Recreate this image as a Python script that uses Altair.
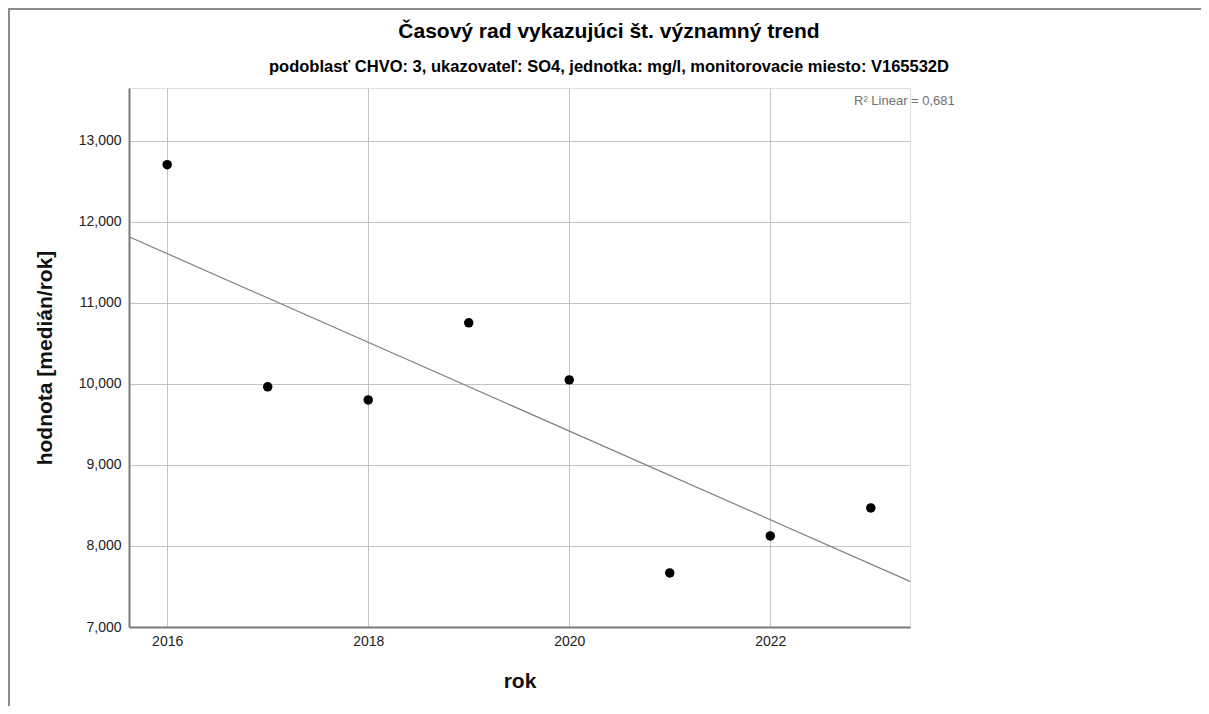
import altair as alt
import pandas as pd

years = [2016, 2017, 2018, 2019, 2020, 2021, 2022, 2023]
values = [12.704, 9.963, 9.802, 10.753, 10.049, 7.667, 8.123, 8.469]

title_text = "Časový rad vykazujúci št. významný trend"
subtitle_text = "podoblasť CHVO: 3, ukazovateľ: SO4, jednotka: mg/l, monitorovacie miesto: V165532D"
r2_text = "R² Linear = 0,681"

x_domain = [2015.62, 2023.39]
y_domain = [7.0, 13.65]
x_ticks = [2016, 2018, 2020, 2022]
y_ticks = [7, 8, 9, 10, 11, 12, 13]

W, H = 781, 539
PL, PT, PR, PB = 121, 80, 1193 - 121 - 781, 698 - 80 - 539

df = pd.DataFrame({"rok": years, "hodnota": values})

FONT = "Liberation Sans"

base = alt.Chart(df)

x_enc = alt.X(
    "rok:Q",
    scale=alt.Scale(domain=x_domain, nice=False, zero=False),
    axis=alt.Axis(
        values=x_ticks, format="d", title="rok", ticks=False,
        labelPadding=7, labelFontSize=14, labelColor="#222", labelFont=FONT,
        titleFontSize=21, titleFont=FONT, titleFontWeight="bold", titleColor="#111",
        titlePadding=22, domainColor="#7a7a7a", domainWidth=2,
        gridColor="#c4c4c4", gridWidth=1,
    ),
)
y_enc = alt.Y(
    "hodnota:Q",
    scale=alt.Scale(domain=y_domain, nice=False, zero=False),
    axis=alt.Axis(
        values=y_ticks, title="hodnota [medián/rok]", ticks=False,
        labelExpr="replace(format(datum.value, '.3f'), '.', ',')",
        labelPadding=8, labelFontSize=14, labelColor="#222", labelFont=FONT,
        titleFontSize=21, titleFont=FONT, titleFontWeight="bold", titleColor="#111",
        titlePadding=23, domainColor="#7a7a7a", domainWidth=2,
        gridColor="#c4c4c4", gridWidth=1,
    ),
)

points = base.mark_circle(size=90, color="#000000", opacity=1).encode(x=x_enc, y=y_enc)

fit = base.transform_regression(
    "rok", "hodnota", method="linear", extent=x_domain
).mark_line(color="#808080", strokeWidth=1.2).encode(x="rok:Q", y="hodnota:Q")

one = pd.DataFrame({"a": [0]})

r2 = alt.Chart(pd.DataFrame({"t": [r2_text]})).mark_text(
    align="left", baseline="middle", fontSize=13, font=FONT, color="#707070"
).encode(text="t:N", x=alt.value(725), y=alt.value(13))

title_mark = alt.Chart(pd.DataFrame({"t": [title_text]})).mark_text(
    align="center", baseline="middle", fontSize=21, font=FONT, fontWeight="bold", color="#000"
).encode(text="t:N", x=alt.value(480), y=alt.value(-56))

subtitle_mark = alt.Chart(pd.DataFrame({"t": [subtitle_text]})).mark_text(
    align="center", baseline="middle", fontSize=16.5, font=FONT, fontWeight="bold", color="#000"
).encode(text="t:N", x=alt.value(480), y=alt.value(-21))

frame_top = alt.Chart(one).mark_rule(color="#8a8a8a", strokeWidth=2).encode(
    x=alt.value(-PL), x2=alt.value(W + PR), y=alt.value(-PT + 1)
)
frame_left = alt.Chart(one).mark_rule(color="#8a8a8a", strokeWidth=2).encode(
    x=alt.value(-PL + 1), y=alt.value(-PT), y2=alt.value(H + PB)
)

chart = (
    alt.layer(fit, points, r2, title_mark, subtitle_mark, frame_top, frame_left)
    .properties(
        width=W, height=H,
        autosize=alt.AutoSizeParams(type="none"),
        padding={"left": PL, "top": PT, "right": PR, "bottom": PB},
    )
    .configure_view(stroke=None)
    .configure(background="white")
)

chart.save("out.html", embed_options={"renderer": "svg", "actions": False})
